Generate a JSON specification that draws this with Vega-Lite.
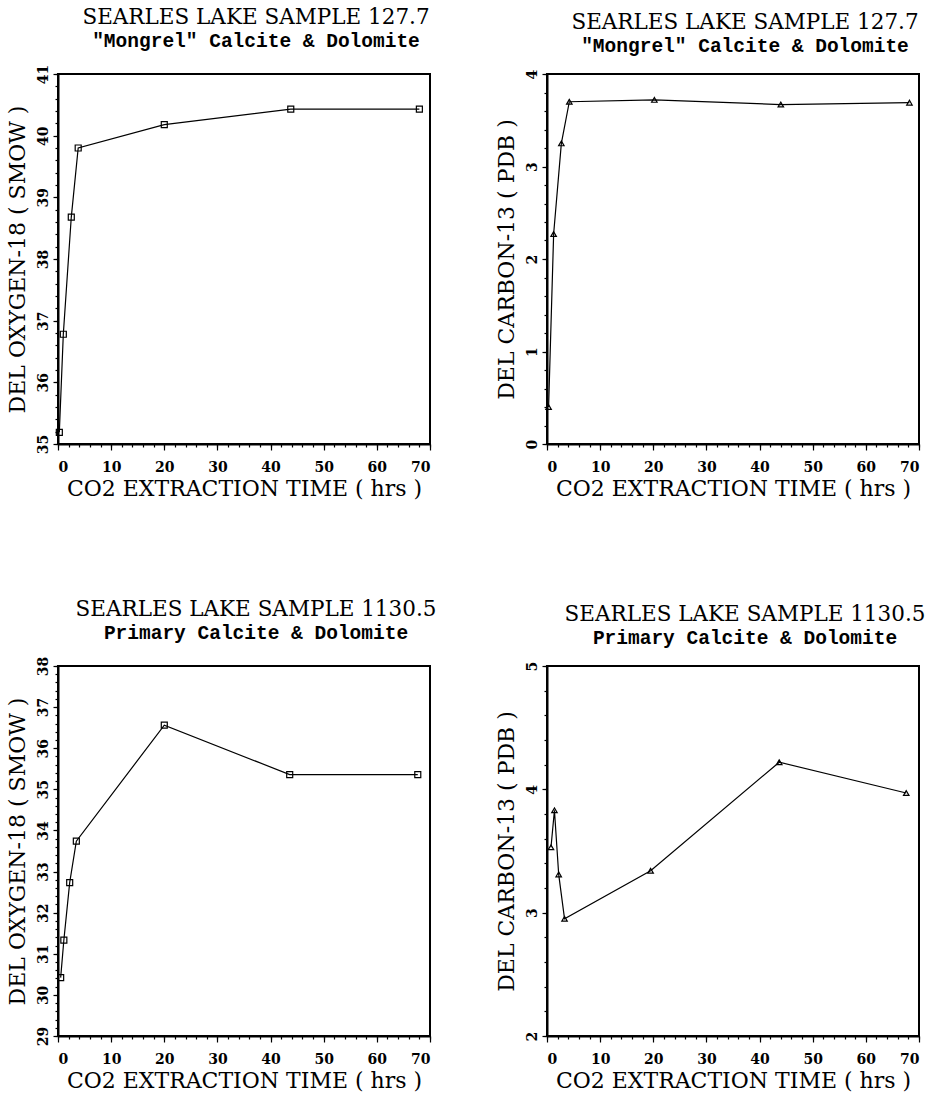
{
  "$schema": "https://vega.github.io/schema/vega-lite/v6.json",
  "background": "white",
  "padding": {"left": 4, "top": 6, "right": 5, "bottom": 5},
  "columns": 2,
  "spacing": {"row": 98, "column": 56},
  "config": {
    "font": "DejaVu Serif",
    "view": {"stroke": "black", "strokeWidth": 2},
    "axis": {
      "grid": false,
      "domainColor": "black",
      "domainWidth": 2,
      "tickColor": "black",
      "tickWidth": 1.2,
      "labelColor": "black",
      "titleColor": "black",
      "labelFont": "DejaVu Serif",
      "labelFontSize": 14,
      "labelFontWeight": "bold",
      "titleFont": "DejaVu Serif",
      "titleFontSize": 22,
      "titleFontWeight": "normal"
    },
    "axisX": {"tickSize": 6, "labelPadding": 10, "titlePadding": 4, "labelAngle": 0},
    "axisY": {"tickSize": 5, "labelPadding": 3, "titlePadding": 7},
    "title": {
      "font": "DejaVu Serif",
      "fontSize": 21.5,
      "fontWeight": "normal",
      "color": "black",
      "subtitleFont": "Liberation Mono",
      "subtitleFontSize": 19.5,
      "subtitleFontWeight": "bold",
      "subtitleColor": "black",
      "subtitlePadding": 0,
      "anchor": "middle",
      "frame": "group",
      "dx": 12,
      "offset": 14
    }
  },
  "concat": [
    {
      "title": {"text": "SEARLES LAKE SAMPLE 127.7", "subtitle": "\"Mongrel\" Calcite & Dolomite"},
      "width": 372,
      "height": 370,
      "data": {"values": [
        {"hours": 0.25, "d18O": 35.19},
        {"hours": 1.0, "d18O": 36.78},
        {"hours": 2.5, "d18O": 38.68},
        {"hours": 3.8, "d18O": 39.80},
        {"hours": 20.0, "d18O": 40.18},
        {"hours": 43.8, "d18O": 40.43},
        {"hours": 68.0, "d18O": 40.43}
      ]},
      "resolve": {"axis": {"x": "independent", "y": "independent"}},
      "layer": [
        {
          "mark": {"type": "line", "color": "black", "strokeWidth": 1.2},
          "encoding": {
            "x": {"field": "hours", "type": "quantitative", "scale": {"domain": [0, 70], "nice": false},
                  "axis": {"orient": "bottom", "values": [0, 10, 20, 30, 40, 50, 60, 70], "title": "CO2 EXTRACTION TIME ( hrs )"}},
            "y": {"field": "d18O", "type": "quantitative", "scale": {"domain": [35, 41], "nice": false, "zero": false},
                  "axis": {"orient": "left", "values": [35, 36, 37, 38, 39, 40, 41], "labelAngle": -90, "title": "DEL OXYGEN-18 ( SMOW )"}}
          }
        },
        {
          "mark": {"type": "point", "shape": "square", "filled": false, "size": 36, "color": "black", "strokeWidth": 1.2, "opacity": 1},
          "encoding": {
            "x": {"field": "hours", "type": "quantitative",
                  "axis": {"orient": "bottom", "values": [0,2,4,6,8,10,12,14,16,18,20,22,24,26,28,30,32,34,36,38,40,42,44,46,48,50,52,54,56,58,60,62,64,66,68,70], "labels": false, "domain": false, "tickSize": 3, "title": null}},
            "y": {"field": "d18O", "type": "quantitative",
                  "axis": {"orient": "left", "values": [35,35.2,35.4,35.6,35.8,36,36.2,36.4,36.6,36.8,37,37.2,37.4,37.6,37.8,38,38.2,38.4,38.6,38.8,39,39.2,39.4,39.6,39.8,40,40.2,40.4,40.6,40.8,41], "labels": false, "domain": false, "tickSize": 3, "title": null}}
          }
        }
      ]
    },
    {
      "title": {"text": "SEARLES LAKE SAMPLE 127.7", "subtitle": "\"Mongrel\" Calcite & Dolomite"},
      "width": 372,
      "height": 370,
      "data": {"values": [
        {"hours": 0.3, "d13C": 0.40},
        {"hours": 1.25, "d13C": 2.27},
        {"hours": 2.7, "d13C": 3.25},
        {"hours": 4.2, "d13C": 3.70},
        {"hours": 20.2, "d13C": 3.72},
        {"hours": 44.0, "d13C": 3.67},
        {"hours": 68.2, "d13C": 3.69}
      ]},
      "resolve": {"axis": {"x": "independent", "y": "independent"}},
      "layer": [
        {
          "mark": {"type": "line", "color": "black", "strokeWidth": 1.2},
          "encoding": {
            "x": {"field": "hours", "type": "quantitative", "scale": {"domain": [0, 70], "nice": false},
                  "axis": {"orient": "bottom", "values": [0, 10, 20, 30, 40, 50, 60, 70], "title": "CO2 EXTRACTION TIME ( hrs )"}},
            "y": {"field": "d13C", "type": "quantitative", "scale": {"domain": [0, 4], "nice": false},
                  "axis": {"orient": "left", "values": [0, 1, 2, 3, 4], "labelAngle": -90, "title": "DEL CARBON-13 ( PDB )"}}
          }
        },
        {
          "mark": {"type": "point", "shape": "triangle-up", "filled": false, "size": 30, "color": "black", "strokeWidth": 1.2, "opacity": 1},
          "encoding": {
            "x": {"field": "hours", "type": "quantitative",
                  "axis": {"orient": "bottom", "values": [0,2,4,6,8,10,12,14,16,18,20,22,24,26,28,30,32,34,36,38,40,42,44,46,48,50,52,54,56,58,60,62,64,66,68,70], "labels": false, "domain": false, "tickSize": 3, "title": null}},
            "y": {"field": "d13C", "type": "quantitative",
                  "axis": {"orient": "left", "values": [0,0.2,0.4,0.6,0.8,1,1.2,1.4,1.6,1.8,2,2.2,2.4,2.6,2.8,3,3.2,3.4,3.6,3.8,4], "labels": false, "domain": false, "tickSize": 3, "title": null}}
          }
        }
      ]
    },
    {
      "title": {"text": "SEARLES LAKE SAMPLE 1130.5", "subtitle": "Primary Calcite & Dolomite"},
      "width": 372,
      "height": 370,
      "data": {"values": [
        {"hours": 0.5, "d18O": 30.42},
        {"hours": 1.1, "d18O": 31.33},
        {"hours": 2.2, "d18O": 32.73},
        {"hours": 3.45, "d18O": 33.74},
        {"hours": 20.0, "d18O": 36.56},
        {"hours": 43.6, "d18O": 35.36},
        {"hours": 67.7, "d18O": 35.36}
      ]},
      "resolve": {"axis": {"x": "independent", "y": "independent"}},
      "layer": [
        {
          "mark": {"type": "line", "color": "black", "strokeWidth": 1.2},
          "encoding": {
            "x": {"field": "hours", "type": "quantitative", "scale": {"domain": [0, 70], "nice": false},
                  "axis": {"orient": "bottom", "values": [0, 10, 20, 30, 40, 50, 60, 70], "title": "CO2 EXTRACTION TIME ( hrs )"}},
            "y": {"field": "d18O", "type": "quantitative", "scale": {"domain": [29, 38], "nice": false, "zero": false},
                  "axis": {"orient": "left", "values": [29, 30, 31, 32, 33, 34, 35, 36, 37, 38], "labelAngle": -90, "title": "DEL OXYGEN-18 ( SMOW )"}}
          }
        },
        {
          "mark": {"type": "point", "shape": "square", "filled": false, "size": 36, "color": "black", "strokeWidth": 1.2, "opacity": 1},
          "encoding": {
            "x": {"field": "hours", "type": "quantitative",
                  "axis": {"orient": "bottom", "values": [0,2,4,6,8,10,12,14,16,18,20,22,24,26,28,30,32,34,36,38,40,42,44,46,48,50,52,54,56,58,60,62,64,66,68,70], "labels": false, "domain": false, "tickSize": 3, "title": null}},
            "y": {"field": "d18O", "type": "quantitative",
                  "axis": {"orient": "left", "values": [29,29.2,29.4,29.6,29.8,30,30.2,30.4,30.6,30.8,31,31.2,31.4,31.6,31.8,32,32.2,32.4,32.6,32.8,33,33.2,33.4,33.6,33.8,34,34.2,34.4,34.6,34.8,35,35.2,35.4,35.6,35.8,36,36.2,36.4,36.6,36.8,37,37.2,37.4,37.6,37.8,38], "labels": false, "domain": false, "tickSize": 3, "title": null}}
          }
        }
      ]
    },
    {
      "title": {"text": "SEARLES LAKE SAMPLE 1130.5", "subtitle": "Primary Calcite & Dolomite"},
      "width": 372,
      "height": 370,
      "data": {"values": [
        {"hours": 0.75, "d13C": 3.53},
        {"hours": 1.4, "d13C": 3.83},
        {"hours": 2.2, "d13C": 3.31},
        {"hours": 3.3, "d13C": 2.95},
        {"hours": 19.5, "d13C": 3.34},
        {"hours": 43.7, "d13C": 4.22},
        {"hours": 67.6, "d13C": 3.97}
      ]},
      "resolve": {"axis": {"x": "independent", "y": "independent"}},
      "layer": [
        {
          "mark": {"type": "line", "color": "black", "strokeWidth": 1.2},
          "encoding": {
            "x": {"field": "hours", "type": "quantitative", "scale": {"domain": [0, 70], "nice": false},
                  "axis": {"orient": "bottom", "values": [0, 10, 20, 30, 40, 50, 60, 70], "title": "CO2 EXTRACTION TIME ( hrs )"}},
            "y": {"field": "d13C", "type": "quantitative", "scale": {"domain": [2, 5], "nice": false, "zero": false},
                  "axis": {"orient": "left", "values": [2, 3, 4, 5], "labelAngle": -90, "title": "DEL CARBON-13 ( PDB )"}}
          }
        },
        {
          "mark": {"type": "point", "shape": "triangle-up", "filled": false, "size": 30, "color": "black", "strokeWidth": 1.2, "opacity": 1},
          "encoding": {
            "x": {"field": "hours", "type": "quantitative",
                  "axis": {"orient": "bottom", "values": [0,2,4,6,8,10,12,14,16,18,20,22,24,26,28,30,32,34,36,38,40,42,44,46,48,50,52,54,56,58,60,62,64,66,68,70], "labels": false, "domain": false, "tickSize": 3, "title": null}},
            "y": {"field": "d13C", "type": "quantitative",
                  "axis": {"orient": "left", "values": [2,2.2,2.4,2.6,2.8,3,3.2,3.4,3.6,3.8,4,4.2,4.4,4.6,4.8,5], "labels": false, "domain": false, "tickSize": 3, "title": null}}
          }
        }
      ]
    }
  ]
}
